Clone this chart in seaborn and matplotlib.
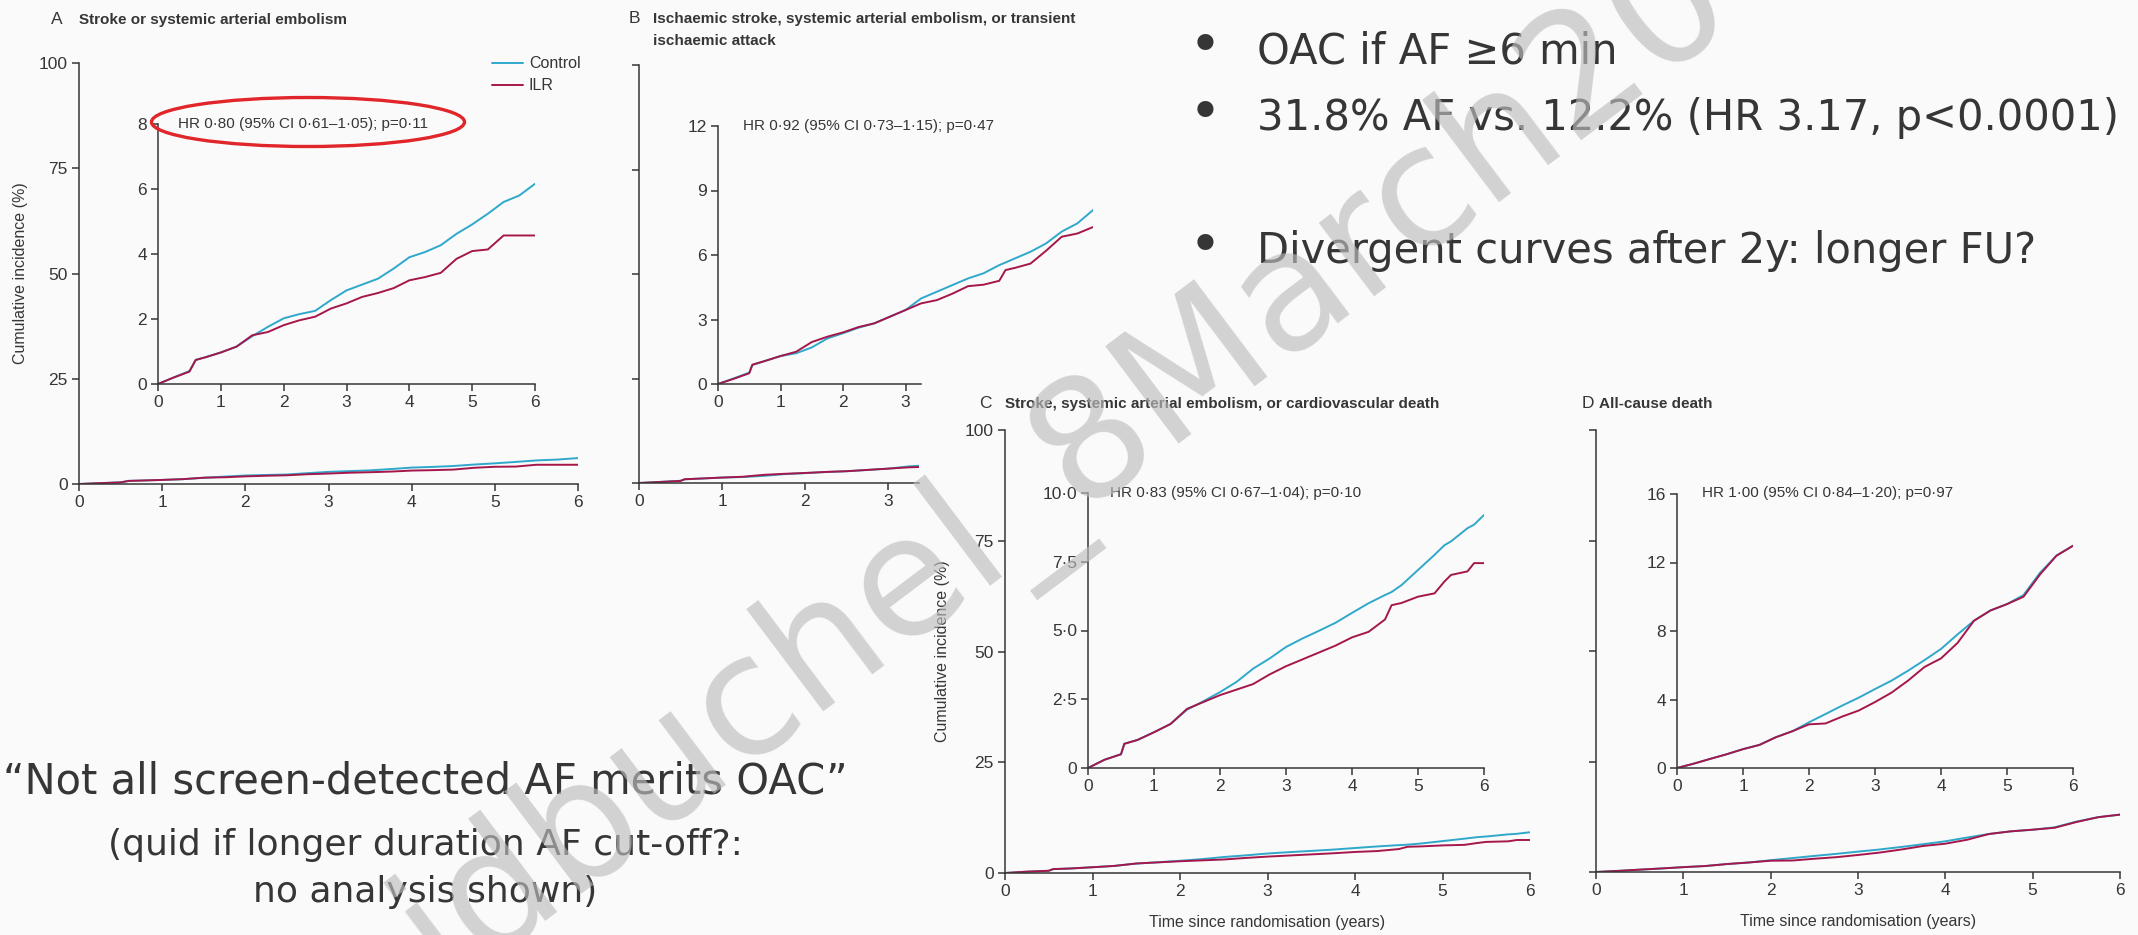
import matplotlib
matplotlib.use("Agg")
import matplotlib.pyplot as plt
from matplotlib.patches import Ellipse
import pandas as pd
import seaborn as sns

# --- Data: cumulative incidence (%) ---
time_a = [0, 0.25, 0.5, 0.6, 0.75, 1.0, 1.25, 1.5, 1.75, 2.0, 2.25, 2.5, 2.75, 3.0,
          3.25, 3.5, 3.75, 4.0, 4.25, 4.5, 4.75, 5.0, 5.25, 5.5, 5.75, 6.0]
control_a = [0, 0.2, 0.4, 0.74, 0.82, 0.97, 1.15, 1.47, 1.76, 2.02, 2.15, 2.25, 2.58, 2.88,
             3.06, 3.24, 3.55, 3.9, 4.06, 4.27, 4.62, 4.91, 5.24, 5.6, 5.8, 6.16]
ilr_a = [0, 0.2, 0.38, 0.74, 0.82, 0.97, 1.15, 1.5, 1.6, 1.81, 1.96, 2.07, 2.32, 2.48,
         2.68, 2.8, 2.95, 3.19, 3.29, 3.42, 3.85, 4.09, 4.14, 4.57, 4.57, 4.57]

time_b = [0, 0.25, 0.5, 0.55, 0.75, 1.0, 1.25, 1.5, 1.75, 2.0, 2.25, 2.5, 2.75, 3.0,
          3.25, 3.5, 3.75, 4.0, 4.25, 4.5, 4.6, 4.75, 5.0, 5.25, 5.5, 5.75, 6.0]
control_b = [0, 0.26, 0.53, 0.88, 1.07, 1.3, 1.43, 1.7, 2.12, 2.36, 2.62, 2.82, 3.13, 3.44,
             3.98, 4.29, 4.6, 4.91, 5.15, 5.53, 5.65, 5.84, 6.15, 6.54, 7.09, 7.47, 8.09]
ilr_b = [0, 0.24, 0.5, 0.9, 1.07, 1.3, 1.5, 1.95, 2.2, 2.4, 2.65, 2.82, 3.13, 3.44,
         3.75, 3.9, 4.2, 4.55, 4.62, 4.8, 5.3, 5.4, 5.6, 6.2, 6.85, 7.0, 7.3]

time_c = [0, 0.25, 0.5, 0.55, 0.75, 1.0, 1.25, 1.5, 1.75, 2.0, 2.25, 2.5, 2.75, 3.0,
          3.25, 3.5, 3.75, 4.0, 4.25, 4.5, 4.6, 4.75, 5.0, 5.25, 5.4, 5.5, 5.75, 5.85, 6.0]
control_c = [0, 0.3, 0.5, 0.88, 1.02, 1.3, 1.6, 2.12, 2.43, 2.76, 3.13, 3.61, 3.98, 4.4,
             4.71, 4.99, 5.28, 5.64, 5.99, 6.29, 6.4, 6.65, 7.2, 7.75, 8.1, 8.24, 8.72, 8.85, 9.2]
ilr_c = [0, 0.3, 0.5, 0.88, 1.02, 1.3, 1.6, 2.15, 2.4, 2.65, 2.85, 3.05, 3.4, 3.7,
         3.95, 4.2, 4.45, 4.75, 4.95, 5.4, 5.92, 6.0, 6.23, 6.35, 6.78, 7.02, 7.15, 7.45, 7.45]

time_d = [0, 0.25, 0.5, 0.75, 1.0, 1.25, 1.5, 1.75, 2.0, 2.25, 2.5, 2.75, 3.0,
          3.25, 3.5, 3.75, 4.0, 4.25, 4.5, 4.75, 5.0, 5.25, 5.5, 5.75, 6.0]
control_d = [0, 0.25, 0.53, 0.8, 1.1, 1.35, 1.8, 2.15, 2.67, 3.15, 3.64, 4.1, 4.61,
             5.1, 5.68, 6.3, 6.95, 7.8, 8.6, 9.2, 9.57, 10.1, 11.4, 12.4, 12.98]
ilr_d = [0, 0.25, 0.53, 0.8, 1.1, 1.35, 1.8, 2.15, 2.55, 2.6, 3.0, 3.35, 3.85,
         4.4, 5.1, 5.9, 6.4, 7.3, 8.6, 9.2, 9.57, 10.0, 11.3, 12.4, 12.98]

groups = ["Control", "ILR"]
years = [0, 1, 2, 3, 4, 5, 6]
main_y = [0, 25, 50, 75, 100]
inset_y_a = [0, 2, 4, 6, 8]
inset_y_b = [0, 3, 6, 9, 12]
inset_y_c = [0, 2.5, 5, 7.5, 10]
inset_y_c_labels = ["0", "2\u00b75", "5\u00b70", "7\u00b75", "10\u00b70"]
inset_y_d = [0, 4, 8, 12, 16]

hr_a = "HR 0\u00b780 (95% CI 0\u00b761\u20131\u00b705); p=0\u00b711"
hr_b = "HR 0\u00b792 (95% CI 0\u00b773\u20131\u00b715); p=0\u00b747"
hr_c = "HR 0\u00b783 (95% CI 0\u00b767\u20131\u00b704); p=0\u00b710"
hr_d = "HR 1\u00b700 (95% CI 0\u00b784\u20131\u00b720); p=0\u00b797"

title_a = ["Stroke or systemic arterial embolism"]
title_b = ["Ischaemic stroke, systemic arterial embolism, or transient", "ischaemic attack"]
title_c = ["Stroke, systemic arterial embolism, or cardiovascular death"]
title_d = ["All-cause death"]

bullets = ["OAC if AF \u22656 min", "31.8% AF vs. 12.2% (HR 3.17, p<0.0001)",
           "Divergent curves after 2y: longer FU?"]
quote = ["\u201cNot all screen-detected AF merits OAC\u201d",
         "(quid if longer duration AF cut-off?:", "no analysis shown)"]
watermark = "Heidbuchel_8March20"

# --- Style ---
sns.set_theme(style="ticks")
plt.rcParams["font.family"] = ["Liberation Sans", "DejaVu Sans"]

INK = "#363636"
PALETTE = {"Control": "#2fa8cb", "ILR": "#a5174b"}
W, H = 2138, 935


def box(x0, y0, x1, y1):
    return [x0 / W, 1 - y1 / H, (x1 - x0) / W, (y1 - y0) / H]


def curves(times, control, ilr):
    n = len(times)
    return pd.DataFrame({
        "time": list(times) * 2,
        "incidence": list(control) + list(ilr),
        "group": [groups[0]] * n + [groups[1]] * n,
    })


def draw(ax, df, xlim, ylim, xticks, yticks, ylabels, legend=False):
    sns.lineplot(data=df, x="time", y="incidence", hue="group", hue_order=groups,
                 palette=PALETTE, linewidth=1.4, estimator=None, sort=False,
                 legend=legend, ax=ax)
    ax.set_xlim(*xlim)
    ax.set_ylim(*ylim)
    ax.set_xticks(xticks)
    ax.set_xticklabels([str(t) for t in xticks])
    ax.set_yticks(yticks)
    ax.set_yticklabels(ylabels)
    ax.set_xlabel("")
    ax.set_ylabel("")
    ax.set_facecolor("none")
    sns.despine(ax=ax)
    for side in ("left", "bottom"):
        ax.spines[side].set_linewidth(1.1)
        ax.spines[side].set_color(INK)
    ax.tick_params(length=5, width=1.1, pad=3, color=INK, labelcolor=INK, labelsize=12.5)


fig = plt.figure(figsize=(W / 100, H / 100), dpi=100, facecolor="#fafafa")

df_a = curves(time_a, control_a, ilr_a)
df_b = curves(time_b, control_b, ilr_b)
df_c = curves(time_c, control_c, ilr_c)
df_d = curves(time_d, control_d, ilr_d)

# --- Panel A ---
ax = fig.add_axes(box(79, 63, 578, 484))
draw(ax, df_a, (0, 6), (0, 100), years, main_y, [str(v) for v in main_y], legend=True)
sns.move_legend(ax, "upper left", bbox_to_anchor=(0.828, 1.016), frameon=False,
                title=None, fontsize=11.5, handlelength=1.9, handletextpad=0.4,
                labelspacing=0.45, borderpad=0, borderaxespad=0, labelcolor=INK)
ax.set_ylabel("Cumulative incidence (%)", fontsize=11.5, color=INK)
ax.yaxis.label.set_va("center")
ax.yaxis.set_label_coords(-0.118, 0.5)

ax = fig.add_axes(box(158, 124, 535, 384))
draw(ax, df_a, (0, 6), (0, 8), years, inset_y_a, [str(v) for v in inset_y_a])

# --- Panel B (cropped on the slide) ---
ax = fig.add_axes(box(639, 65, 919, 483))
draw(ax, df_b, (0, 3.37), (0, 100), years[:4], main_y, [""] * len(main_y))

ax = fig.add_axes(box(718, 126, 1093, 384))
draw(ax, df_b, (0, 6), (0, 12), years[:4], inset_y_b, [str(v) for v in inset_y_b])
ax.spines["bottom"].set_bounds(0, 3.25)

# --- Panel C ---
ax = fig.add_axes(box(1005, 430, 1530, 873))
draw(ax, df_c, (0, 6), (0, 100), years, main_y, [str(v) for v in main_y])
ax.set_ylabel("Cumulative incidence (%)", fontsize=11.5, color=INK)
ax.yaxis.label.set_va("center")
ax.yaxis.set_label_coords(-0.12, 0.5)
ax.set_xlabel("Time since randomisation (years)", fontsize=11.5, color=INK)
ax.xaxis.label.set_va("center")
ax.xaxis.set_label_coords(0.5, -0.111)

ax = fig.add_axes(box(1088, 493, 1484, 768))
draw(ax, df_c, (0, 6), (0, 10), years, inset_y_c, inset_y_c_labels)

# --- Panel D ---
ax = fig.add_axes(box(1596, 430, 2120, 872))
draw(ax, df_d, (0, 6), (0, 100), years, main_y, [""] * len(main_y))
ax.set_xlabel("Time since randomisation (years)", fontsize=11.5, color=INK)
ax.xaxis.label.set_va("center")
ax.xaxis.set_label_coords(0.5, -0.113)

ax = fig.add_axes(box(1677, 494, 2073, 768))
draw(ax, df_d, (0, 6), (0, 16), years, inset_y_d, [str(v) for v in inset_y_d])

# --- Panel titles and HR annotations ---
for letter, lx, tx, base, lines in [("A", 51, 79, 24, title_a), ("B", 629, 653, 23, title_b),
                                    ("C", 979, 1005, 408, title_c), ("D", 1582, 1599, 408, title_d)]:
    fig.text(lx / W, 1 - base / H, letter, fontsize=12.5, color=INK, va="baseline")
    for i, line in enumerate(lines):
        fig.text(tx / W, 1 - (base + 22 * i) / H, line, fontsize=11, fontweight="bold",
                 color=INK, va="baseline")

for text, x, y in [(hr_a, 178, 124), (hr_b, 743, 126), (hr_c, 1110, 493), (hr_d, 1702, 493)]:
    fig.text(x / W, 1 - y / H, text, fontsize=11, color=INK, va="center")

fig.add_artist(Ellipse((308 / W, 1 - 122 / H), 313 / W, 49 / H, transform=fig.transFigure,
                       fill=False, edgecolor="#e1262b", linewidth=2.4))

# --- Slide text ---
for text, base in zip(bullets, [63, 130, 263]):
    fig.text(1205 / W, 1 - base / H, "\u2022", fontsize=40, color=INK, ha="center",
             va="baseline", family="DejaVu Sans")
    fig.text(1257 / W, 1 - base / H, text, fontsize=30, color=INK, va="baseline",
             family="DejaVu Sans")

for text, base, size in zip(quote, [793, 855, 902], [30, 26, 26]):
    fig.text(425 / W, 1 - base / H, text, fontsize=size, color=INK, ha="center",
             va="baseline", family="DejaVu Sans")

fig.text(975 / W, 1 - 530 / H, watermark, fontsize=120, color="#bdbdbd", alpha=0.65,
         rotation=37, rotation_mode="anchor", ha="center", va="center",
         family="DejaVu Sans", zorder=50)

fig.savefig("out.png", dpi=100, facecolor=fig.get_facecolor())
